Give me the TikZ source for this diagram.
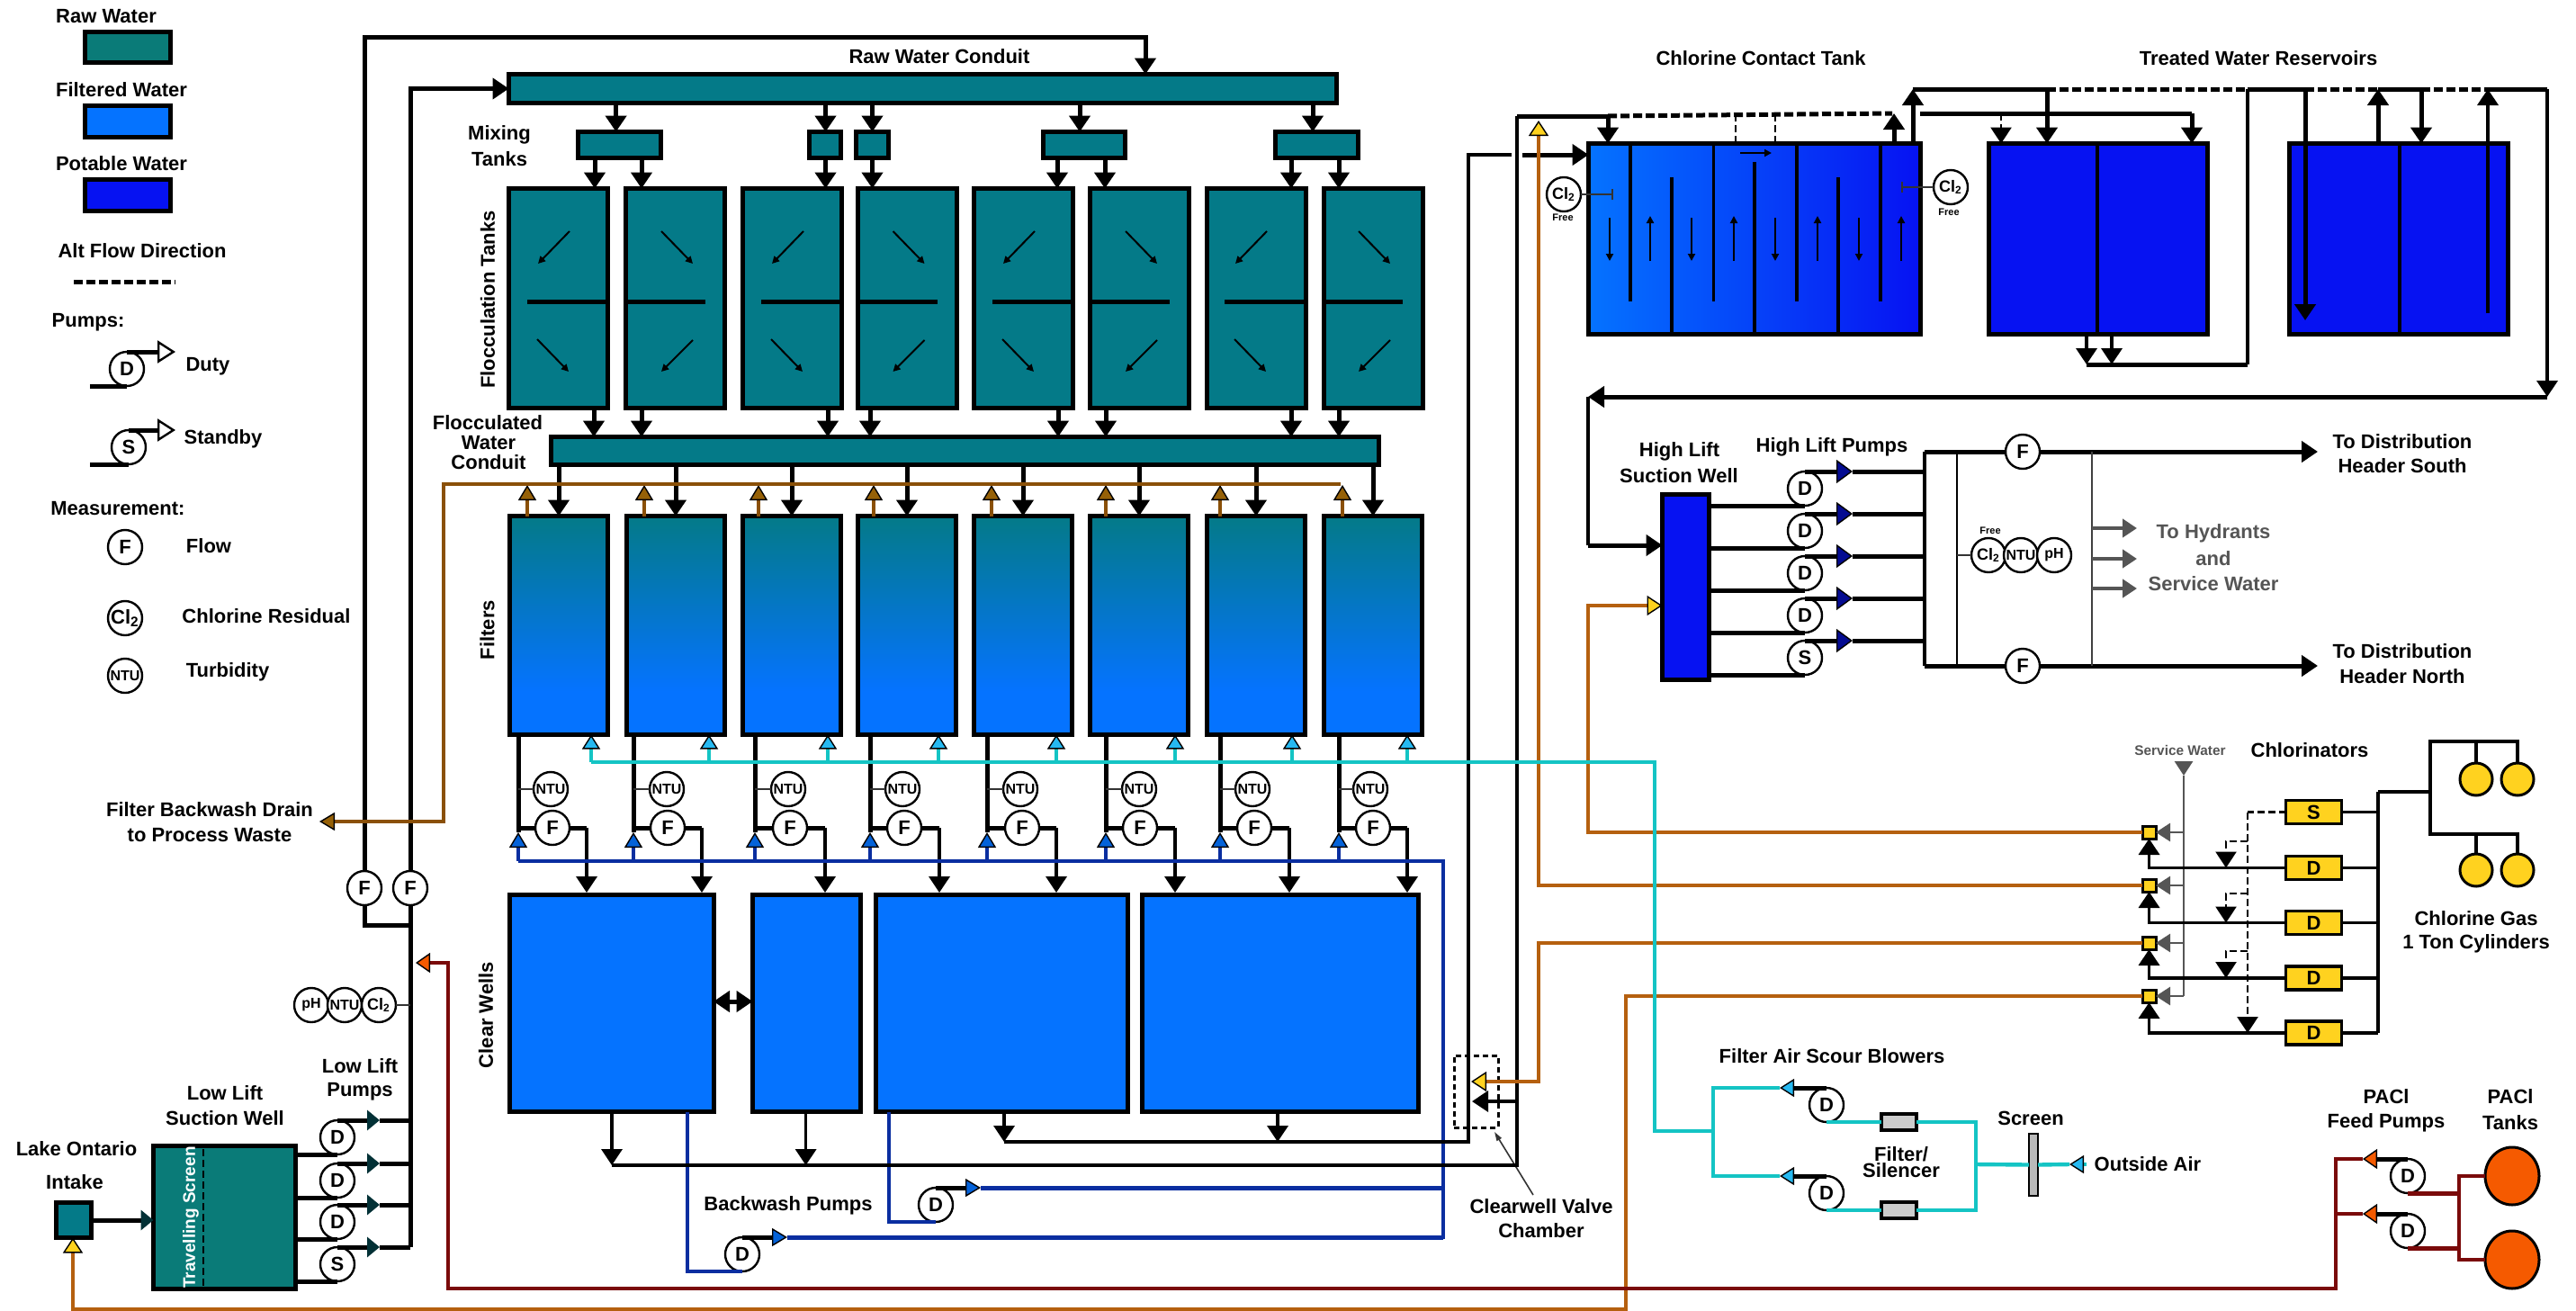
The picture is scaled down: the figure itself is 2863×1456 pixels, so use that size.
\documentclass[tikz,border=0pt]{standalone}
\usepackage{fontspec}
\setmainfont{Liberation Sans}
\usetikzlibrary{arrows.meta,shapes.geometric}
\definecolor{rawteal}{HTML}{047A88}
\definecolor{legendteal}{HTML}{0A7B78}
\definecolor{filterblue}{HTML}{0573FF}
\definecolor{potable}{HTML}{0612F2}
\definecolor{drainbrown}{HTML}{8A5008}
\definecolor{chemorange}{HTML}{B5600F}
\definecolor{pacred}{HTML}{7A0A0A}
\definecolor{aircyan}{HTML}{14C4C4}
\definecolor{washblue}{HTML}{0A2EA0}
\definecolor{gasyellow}{HTML}{FFD21F}
\definecolor{pacorange}{HTML}{F55A00}
\definecolor{greytext}{HTML}{555555}
\pgfdeclareverticalshading{filtershade}{100bp}{color(0bp)=(filterblue); color(35bp)=(filterblue); color(75bp)=(rawteal); color(100bp)=(rawteal)}
\begin{document}
\begin{tikzpicture}[
x=0.5pt,y=-0.5pt,
font=\fontsize{11}{13}\selectfont\bfseries,
wh/.style 2 args={minimum width=(#1-5)*0.5pt,minimum height=(#2-5)*0.5pt},
tank/.style={rectangle,draw=black,line width=2.5pt,inner sep=0pt,outer sep=0pt},
raw/.style={tank,fill=rawteal},
filtered/.style={tank,fill=filterblue},
drinking/.style={tank,fill=potable},
filterbed/.style={tank,shade,shading=filtershade},
meter/.style={circle,draw=black,fill=white,line width=1.2pt,minimum size=19pt,inner sep=0pt,outer sep=0pt},
metersm/.style={meter,font=\fontsize{8}{8}\selectfont\bfseries},
chlor/.style={tank,fill=gasyellow,line width=1.6pt,wh={67}{31}},
inject/.style={tank,fill=gasyellow,line width=1.5pt,wh={20}{19}},
silencer/.style={tank,fill=gray!40,line width=1.6pt,wh={44}{23}},
cylinder/.style={circle,draw=black,fill=gasyellow,line width=1.5pt,minimum size=18pt,inner sep=0pt,outer sep=0pt},
pactank/.style={ellipse,draw=black,fill=pacorange,line width=1.5pt,minimum width=30pt,minimum height=32pt,inner sep=0pt,outer sep=0pt},
small/.style={font=\fontsize{5.5}{6}\selectfont\bfseries},
ktip/.tip={Triangle[length=9pt,width=11.5pt]},
dtip/.tip={Triangle[length=7pt,width=11pt,fill=rawteal!40!black,color=rawteal!40!black]},
ntip/.tip={Triangle[length=8.5pt,width=10pt,fill=drainbrown!90!yellow,color=black,line width=.7pt]},
ytip/.tip={Triangle[length=8.5pt,width=11pt,fill=gasyellow,color=black,line width=.7pt]},
ctip/.tip={Triangle[length=8pt,width=10pt,fill=cyan!85!white,color=black,line width=.7pt]},
btip/.tip={Triangle[length=8.5pt,width=10pt,fill=filterblue!85!black,color=black,line width=.7pt]},
vtip/.tip={Triangle[length=9pt,width=13pt,fill=potable!60!black,color=black,line width=.7pt]},
rtip/.tip={Triangle[length=8pt,width=11pt,fill=pacorange,color=black,line width=.7pt]},
gtip/.tip={Triangle[length=8pt,width=10pt,fill=greytext,color=greytext]},
wtip/.tip={Triangle[length=10pt,width=12.5pt,fill=white,color=black,line width=1.2pt]},
pipe/.style={draw=black,line width=2.5pt},
pipes/.style={draw=black,line width=1.8pt},
sense/.style={draw=black!80,line width=.8pt},
flow/.style={pipe,-{ktip}},
flows/.style={pipes,-{ktip}},
altflow/.style={draw=black,line width=2.5pt,dash pattern=on 5pt off 2pt},
altthin/.style={draw=black,line width=1.3pt,dash pattern=on 4pt off 2pt},
mini/.style={draw=black,line width=1pt,-{Triangle[length=4pt,width=4pt]}},
drainp/.style={draw=drainbrown,line width=2pt},
chem/.style={draw=chemorange,line width=2pt},
pacp/.style={draw=pacred,line width=2.2pt},
airp/.style={draw=aircyan,line width=1.6pt},
washp/.style={draw=washblue,line width=2pt},
greyp/.style={draw=greytext,line width=1.4pt},
]
\useasboundingbox (0,0) rectangle (2863,1456);

% legend
\node at (118,18) (lraw) {Raw Water};
\node[raw,fill=legendteal,wh={100}{39}] at (142,52.5) (sraw) {};
\node at (135,100) (lfil) {Filtered Water};
\node[filtered,wh={100}{40}] at (142,135) (sfil) {};
\node at (135,182) (lpot) {Potable Water};
\node[drinking,wh={100}{40}] at (142,217) (spot) {};
\node at (158,279) (lalt) {Alt Flow Direction};
\coordinate (alt1) at (82,313);
\coordinate (alt2) at (195,313);
\draw[altflow] (alt1) -- (alt2);
\node at (98,358) (lpump) {Pumps:};
\node[meter] at (141,410) (lpd) {D};
\node at (231,407) (lduty) {Duty};
\coordinate (lpd1) at (100,0);
\coordinate (lpd2) at (195,0);
\draw[pipe] (lpd.south -| lpd1) -- (lpd.south);
\draw[pipe,-{wtip}] (lpd.north) -- (lpd.north -| lpd2);
\node[meter] at (143,497) (lps) {S};
\node at (248,488) (lstby) {Standby};
\draw[pipe] (lps.south -| lpd1) -- (lps.south);
\draw[pipe,-{wtip}] (lps.north) -- (lps.north -| lpd2);
\node at (131,565) (lmeas) {Measurement:};
\node[meter] at (139,608) (lmf) {F};
\node at (232,607) (lflow) {Flow};
\node[meter] at (139,687) (lmc) {Cl\textsubscript{2}};
\node at (296,685) (lres) {Chlorine Residual};
\node[metersm] at (139,751) (lmn) {NTU};
\node at (253,747) (lturb) {Turbidity};

% raw water side
\node at (85,1277) (llake) {Lake Ontario};
\node at (83,1314) (lint) {Intake};
\node[raw,wh={44}{44}] at (82,1356) (intake) {};
\node[raw,fill=legendteal,wh={163}{164}] at (249.5,1353) (llw) {};
\node[rotate=90,text=white,font=\fontsize{9.5}{10}\selectfont\bfseries] at (212,1353) (lscr) {Travelling Screen};
\coordinate (scr1) at (226,1277);
\coordinate (scr2) at (226,1430);
\draw[altthin,draw=black] (scr1) -- (scr2);
\node at (250,1215) (lll1) {Low Lift};
\node at (250,1243) (lll2) {Suction Well};
\node at (400,1185) (lll3) {Low Lift};
\node at (400,1213) (lll4) {Pumps};
\draw[pipe,-{dtip}] (intake.east) -- (intake.east -| llw.west);
\node[meter] at (405,987) (fa) {F};
\node[meter] at (456,987) (fb) {F};
\node[raw,wh={925}{37}] at (1025.5,98.5) (rawc) {};
\node at (1044,63) (lrawc) {Raw Water Conduit};
\coordinate (ta) at (405,41);
\coordinate (tb) at (1273,41);
\coordinate (ja) at (456,1028);
\coordinate (jb) at (456,1386);
\coordinate (lltx) at (422,0);
\draw[flow] (fa.north) -- (ta) -- (tb) -- (tb |- rawc.north);
\draw[flow] (fb.north) |- (rawc.west);
\draw[pipe] (fa.south) |- (ja);
\draw[pipe] (fb.south) -- (jb);
\foreach \i/\pt/\yy in {1/D/1264,2/D/1312,3/D/1358,4/S/1405} {
\node[meter] at (375,\yy) (ll\i) {\pt};
\draw[pipe] (ll\i.south -| llw.east) -- (ll\i.south);
\draw[pipe,-{dtip}] (ll\i.north) -- (ll\i.north -| lltx);
\draw[pipe] (ll\i.north -| lltx) -- (ll\i.north -| jb);
}
\node[metersm] at (346,1117) (sph) {pH};
\node[metersm] at (383,1117) (snt) {NTU};
\node[meter,font=\fontsize{9}{9}\selectfont\bfseries] at (421,1117) (scl) {Cl\textsubscript{2}};
\draw[sense] (scl.east) -- (scl.east -| jb);

% mixing and flocculation
\node at (555,150) (lmix1) {Mixing};
\node at (555,177) (lmix2) {Tanks};
\foreach \i/\xx/\ww/\inx in {1/688.5/97/684.6,2/916.75/40.5/917.5,3/969.5/41/969.5,4/1205/96/1200,5/1463.5/97/1459} {
\node[raw,wh={\ww}{34}] at (\xx,161) (mt\i) {};
\coordinate (mi\i) at (\inx,0);
\draw[flow] (rawc.south -| mi\i) -- (mi\i |- mt\i.north);
}
\node[rotate=90] at (542,333) (lfloc) {Flocculation Tanks};
\foreach \i/\xx in {1/620.5,2/750.5,3/880.5,4/1008,5/1137.5,6/1266.5,7/1396,8/1526} {
\node[raw,wh={115}{249}] at (\xx,331.5) (fc\i) {};
}
\foreach \i/\lf in {1/563,3/823,5/1080,7/1338} {
\coordinate (bf\i) at ({\lf+23},335);
\draw[pipe] (bf\i) -- (bf\i -| fc\i.east);
\coordinate (ua\i) at ({\lf+70},257);
\coordinate (ub\i) at ({\lf+35},293);
\coordinate (la\i) at ({\lf+34},377);
\coordinate (lb\i) at ({\lf+69},413);
\draw[mini] (ua\i) -- (ub\i);
\draw[mini] (la\i) -- (lb\i);
}
\foreach \i/\lf in {2/693,4/950.5,6/1209,8/1468} {
\coordinate (bf\i) at ({\lf+91},335);
\draw[pipe] (bf\i -| fc\i.west) -- (bf\i);
\coordinate (ua\i) at ({\lf+42},257);
\coordinate (ub\i) at ({\lf+77},293);
\coordinate (la\i) at ({\lf+77},378);
\coordinate (lb\i) at ({\lf+42},413);
\draw[mini] (ua\i) -- (ub\i);
\draw[mini] (la\i) -- (lb\i);
}
\foreach \i/\xx/\mm in {1/661/1,2/713/1,3/917.5/2,4/969.5/3,5/1175/4,6/1228/4,7/1435/5,8/1488/5} {
\coordinate (mo\i) at (\xx,0);
\draw[flow] (mo\i |- mt\mm.south) -- (mo\i |- fc\i.north);
}
\node at (542,470) (lfw1) {Flocculated};
\node at (543,492) (lfw2) {Water};
\node at (543,514) (lfw3) {Conduit};
\node[raw,wh={925}{36}] at (1072,501) (fwc) {};
\foreach \i/\xx in {1/660,2/713,3/920,4/967,5/1176,6/1229,7/1435,8/1488} {
\coordinate (fo\i) at (\xx,0);
\draw[flow] (fo\i |- fc\i.south) -- (fo\i |- fwc.north);
}

% filters
\node[rotate=90] at (541.5,700) (lfilt) {Filters};
\foreach \i/\xx/\br/\cy/\bk/\fm/\nt/\cw in {1/621/586/657/576/614/612/652,2/751/716/788/704/742/741/780,3/880/843/920/839/878/876/917,4/1008/971/1043/967/1005/1003/1044,5/1137/1102/1174/1097/1136/1134/1174,6/1266/1229/1306/1229/1267/1266/1306,7/1396/1356/1436/1356/1394/1392/1433,8/1526/1492/1564/1488/1526/1523/1564} {
\node[filterbed,wh={114}{248}] at (\xx,695) (filt\i) {};
\node[meter] at (\fm,920) (fl\i) {F};
\node[metersm] at (\nt,877) (nt\i) {NTU};
\draw[flow] (filt\i.north |- fwc.south) -- (filt\i.north);
\coordinate (dr\i) at (\br,539);
\draw[drainp,-{ntip}] (dr\i |- filt\i.north) -- (dr\i);
\coordinate (sc\i) at (\cy,847);
\draw[airp,-{ctip}] (sc\i) -- (sc\i |- filt\i.south);
\coordinate (bo\i) at (\bk,957);
\coordinate (bt\i) at (\bk,925);
\draw[washp,-{btip}] (bo\i) -- (bt\i);
\draw[pipe] (bt\i |- filt\i.south) -- (bt\i);
\draw[pipe] (bt\i |- fl\i.west) -- (fl\i.west);
\draw[sense] (bt\i |- nt\i.west) -- (nt\i.west);
\coordinate (wa\i) at (\cw,992);
\draw[pipe] (fl\i.east) -- (fl\i.east -| wa\i);
\draw[flows] (fl\i.east -| wa\i) -- (wa\i);
}
\coordinate (dr0) at (1490,538);
\coordinate (dr9) at (493,538);
\coordinate (dr10) at (493,913);
\coordinate (dr11) at (355,913);
\draw[drainp,-{ntip}] (dr0) -- (dr9) -- (dr10) -- (dr11);
\node at (233,900) (ldr1) {Filter Backwash Drain};
\node at (233,928) (ldr2) {to Process Waste};

% clear wells
\node[rotate=90] at (540,1128) (lcw) {Clear Wells};
\node[filtered,wh={232}{246}] at (679.5,1115) (cw1) {};
\node[filtered,wh={125}{246}] at (896.5,1115) (cw2) {};
\node[filtered,wh={285}{246}] at (1113,1115) (cw3) {};
\node[filtered,wh={312}{246}] at (1423,1115) (cw4) {};
\coordinate (cwx) at (0,1113);
\draw[pipe,{ktip}-{ktip}] (cw1.east |- cwx) -- (cw2.west |- cwx);
\coordinate (oa1) at (680,1295);
\coordinate (oa2) at (895.6,1295);
\coordinate (oa3) at (1686,1295);
\coordinate (ob1) at (1116,1269);
\coordinate (ob2) at (1420,1269);
\coordinate (ob3) at (1632,1269);
\draw[flows] (oa1 |- cw1.south) -- (oa1);
\draw[flows] (oa2 |- cw2.south) -- (oa2);
\draw[flows] (ob1 |- cw3.south) -- (ob1);
\draw[flows] (ob2 |- cw4.south) -- (ob2);
\coordinate (ob4) at (1632,172);
\coordinate (ob5) at (1680,172);
\coordinate (ob6) at (1692,172);
\coordinate (oa4) at (1686,129);
\coordinate (oa5) at (1787,129);
\coordinate (oa6) at (2103,126);
\node[draw=black,line width=1.5pt,dash pattern=on 3pt off 2pt,minimum width=24.5pt,minimum height=40pt,inner sep=0pt,outer sep=0pt] at (1640.5,1213) (vc) {};
\node at (1713,1341) (lvc1) {Clearwell Valve};
\node at (1713,1368) (lvc2) {Chamber};
\coordinate (vcp) at (1661,1258);
\coordinate (vcq) at (1704,1328);
\draw[sense,-{Triangle[length=5pt,width=3pt]}] (vcq) -- (vcp);
\coordinate (vca) at (1636,1224);
\draw[flows] (oa3 |- vca) -- (vca);

% backwash
\coordinate (bo9) at (1604,957);
\coordinate (bo10) at (1604,1377);
\draw[washp] (bo1) -- (bo9) -- (bo10);
\node at (876,1340) (lbw) {Backwash Pumps};
\node[meter] at (825,1394) (bw1) {D};
\node[meter] at (1040,1339) (bw2) {D};
\coordinate (bwa) at (764,0);
\coordinate (bwb) at (988,0);
\coordinate (bwc) at (875,0);
\coordinate (bwd) at (1090,0);
\draw[washp] (bwa |- cw1.south) -- (bwa |- bw1.south) -- (bw1.south);
\draw[washp] (bwb |- cw3.south) -- (bwb |- bw2.south) -- (bw2.south);
\draw[pipe,-{btip}] (bw1.north) -- (bw1.north -| bwc);
\draw[pipe,-{btip}] (bw2.north) -- (bw2.north -| bwd);
\draw[washp,line width=2.5pt] (bw1.north -| bwc) -- (bw1.north -| bo9);
\draw[washp,line width=2.5pt] (bw2.north -| bwd) -- (bw2.north -| bo9);

% chlorine contact tank and reservoirs
\node at (1957,65) (lcct) {Chlorine Contact Tank};
\node at (2510,65) (ltwr) {Treated Water Reservoirs};
\node[tank,left color=filterblue,right color=potable,wh={374}{217}] at (1950,265.5) (cct) {};
\node[drinking,wh={248}{217}] at (2332,265.5) (res1) {};
\node[drinking,wh={248}{217}] at (2666,265.5) (res2) {};
\foreach \i/\xx in {1/1812,2/1904.5,3/1997,4/2090} {
\coordinate (bu\i) at (\xx,335);
\draw[pipes] (bu\i |- cct.north) -- (bu\i);
}
\foreach \i/\xx/\yy in {1/1858/197,2/1950/180,3/2043/197} {
\coordinate (bl\i) at (\xx,\yy);
\draw[pipes] (bl\i |- cct.south) -- (bl\i);
}
\foreach \i/\xx in {1/1789,2/1880,3/1973,4/2066} {
\coordinate (sd\i) at (\xx,242);
\coordinate (se\i) at (\xx,290);
\draw[mini] (sd\i) -- (se\i);
}
\foreach \i/\xx in {1/1834,2/1927,3/2020,4/2113} {
\coordinate (sf\i) at (\xx,290);
\coordinate (sg\i) at (\xx,240);
\draw[mini] (sf\i) -- (sg\i);
}
\coordinate (sh1) at (1934,170);
\coordinate (sh2) at (1969,170);
\draw[mini] (sh1) -- (sh2);
\node[meter,font=\fontsize{9}{9}\selectfont\bfseries] at (1738,216) (cla) {Cl\textsubscript{2}};
\node[small] at (1737,242) (fra) {Free};
\coordinate (cla1) at (1793,216);
\draw[sense,-{Bar[width=6pt]}] (cla.east) -- (cla1);
\node[meter,font=\fontsize{9}{9}\selectfont\bfseries] at (2168,208) (clb) {Cl\textsubscript{2}};
\node[small] at (2166,236) (frb) {Free};
\coordinate (clb1) at (2113,208);
\draw[sense,-{Bar[width=6pt]}] (clb.west) -- (clb1);
\draw[pipes] (oa1) -- (oa3) -- (oa4);
\draw[pipe] (oa4) -- (oa5);
\draw[flow] (oa5) -- (oa5 |- cct.north);
\draw[altflow] (oa5) -- (oa6);
\draw[pipes] (ob1) -- (ob3) -- (ob4) -- (ob5);
\draw[flow] (ob6) -- (ob6 -| cct.west);
\coordinate (up0) at (1929,127);
\coordinate (up00) at (1973,127);
\draw[altthin] (up0) -- (up0 |- cct.north);
\draw[altthin] (up00) -- (up00 |- cct.north);
\coordinate (up1) at (2105,126);
\coordinate (up2) at (2126,99);
\draw[flow] (up1 |- cct.north) -- (up1);
\draw[flow] (up2 |- cct.north) -- (up2);
\coordinate (b1) at (2134,126);
\coordinate (b2) at (2436,126);
\coordinate (b3) at (2224,126);
\coordinate (b4) at (2275,99);
\coordinate (b6) at (2498,99);
\coordinate (c1) at (2562,99);
\coordinate (c2) at (2643,99);
\coordinate (c3) at (2691,99);
\coordinate (c4) at (2765,99);
\coordinate (c5) at (2831,99);
\draw[pipe] (b1) -- (b2);
\draw[flow] (b2) -- (b2 |- res1.north);
\draw[altthin,-{ktip}] (b3) -- (b3 |- res1.north);
\draw[flow] (b4) -- (b4 |- res1.north);
\draw[pipe] (up2) -- (b4);
\draw[altflow] (b4) -- (b6);
\draw[pipe] (b6) -- (c1);
\draw[altflow] (c1) -- (c2);
\draw[pipe] (c2) -- (c3);
\draw[altflow] (c3) -- (c4);
\draw[pipe] (c4) -- (c5);
\coordinate (c1a) at (2562,356);
\coordinate (c4a) at (2765,348);
\draw[flow] (c1) -- (c1a);
\draw[flow] (c2 |- res2.north) -- (c2);
\draw[flow] (c3) -- (c3 |- res2.north);
\draw[flows] (c4a) -- (c4);
\coordinate (rd1) at (2331,0);
\coordinate (rd2) at (2667,0);
\draw[pipes] (rd1 |- res1.north) -- (rd1 |- res1.south);
\draw[pipes] (rd2 |- res2.north) -- (rd2 |- res2.south);
\coordinate (g1) at (2319,405);
\coordinate (g2) at (2347,405);
\coordinate (g3) at (2498,405);
\draw[flows] (g1 |- res1.south) -- (g1);
\draw[flows] (g2 |- res1.south) -- (g2);
\draw[pipe] (g1) -- (g3);
\draw[pipes] (g3) -- (b6);

% high lift
\coordinate (e1) at (2831,441);
\coordinate (e2) at (1765,441);
\coordinate (e3) at (1765,606);
\node[drinking,wh={57}{211}] at (1873.5,652.5) (hlw) {};
\node at (1866.5,502) (lhl1) {High Lift};
\node at (1866,529) (lhl2) {Suction Well};
\node at (2036,497) (lhl3) {High Lift Pumps};
\draw[flows] (c5) -- (e1);
\draw[flow] (e1) -- (e2);
\draw[pipes] (e2) -- (e3);
\draw[flow] (e3) -- (e3 -| hlw.west);
\coordinate (hv1) at (2139,502);
\coordinate (hv2) at (2139,740);
\coordinate (hltx) at (2059,0);
\draw[pipes] (hv1) -- (hv2);
\foreach \i/\pt/\yy in {1/D/543,2/D/590,3/D/637,4/D/684,5/S/731} {
\node[meter] at (2006,\yy) (hl\i) {\pt};
\draw[pipe] (hl\i.south -| hlw.east) -- (hl\i.south);
\draw[pipe,-{vtip}] (hl\i.north) -- (hl\i.north -| hltx);
\draw[pipe] (hl\i.north -| hltx) -- (hl\i.north -| hv1);
}
\node[meter] at (2248,502) (fs) {F};
\node[meter] at (2248,740) (fn) {F};
\coordinate (ts) at (2576,502);
\coordinate (tn) at (2576,740);
\draw[pipe] (hv1) -- (fs.west);
\draw[pipe] (hv2) -- (fn.west);
\draw[flow] (fs.east) -- (ts);
\draw[flow] (fn.east) -- (tn);
\coordinate (hb1) at (2175,502);
\coordinate (hb2) at (2175,740);
\coordinate (hc1) at (2325,502);
\coordinate (hc2) at (2325,740);
\draw[draw=black,line width=1.2pt] (hb1) -- (hb2);
\draw[draw=black!75,line width=1.2pt] (hc1) -- (hc2);
\node[meter,font=\fontsize{9}{9}\selectfont\bfseries] at (2210,617) (hcl) {Cl\textsubscript{2}};
\node[metersm] at (2246,617) (hnt) {NTU};
\node[metersm] at (2283,617) (hph) {pH};
\node[small] at (2212,590) (hfr) {Free};
\draw[sense] (hb1 |- hcl.west) -- (hcl.west);
\foreach \i/\yy in {1/587,2/621,3/654} {
\coordinate (gg\i) at (2375,\yy);
\draw[greyp,line width=2pt,-{gtip}] (hc1 |- gg\i) -- (gg\i);
}
\node[text=greytext] at (2460,593) (lhy1) {To Hydrants};
\node[text=greytext] at (2460,621) (lhy2) {and};
\node[text=greytext] at (2460,649) (lhy3) {Service Water};
\node at (2670,491) (lds1) {To Distribution};
\node at (2670,518) (lds2) {Header South};
\node at (2670,724) (ldn1) {To Distribution};
\node at (2670,752) (ldn2) {Header North};

% chlorinators
\node[text=greytext,font=\fontsize{7.7}{8}\selectfont\bfseries] at (2423,834) (lsw) {Service Water};
\node at (2567,834) (lchl) {Chlorinators};
\foreach \i/\yy in {1/925,2/984,3/1048,4/1107} {
\node[inject] at (2388.5,\yy) (inj\i) {};
}
\foreach \i/\yy/\pt in {0/902.5/S,1/964.5/D,2/1025.5/D,3/1087/D,4/1148/D} {
\node[chlor] at (2571.5,\yy) (cb\i) {\pt};
}
\coordinate (sv0) at (2427,847);
\coordinate (sv1) at (2427,862);
\coordinate (sv2) at (2427,1107);
\draw[greyp,-{gtip}] (sv0) -- (sv1);
\draw[greyp] (sv1) -- (sv2);
\coordinate (gas) at (2643,880);
\foreach \i in {1,2,3,4} {
\draw[greyp,-{gtip}] (inj\i.east -| sv0) -- (inj\i.east);
\draw[pipes,-{ktip}] (cb\i.west) -| (inj\i.south);
}
\foreach \i in {0,1,2,3,4} {
\draw[pipes] (cb\i.east) -- (cb\i.east -| gas);
}
\draw[pipes] (gas) -- (gas |- cb4.east);
\coordinate (dv0) at (2498,902.5);
\draw[altthin] (cb0.west) -- (dv0);
\draw[altthin,-{ktip}] (dv0) -- (dv0 |- cb4.west);
\foreach \i/\yy in {1/935,2/993,3/1057} {
\coordinate (db\i) at (2474,\yy);
\draw[altthin,-{ktip}] (dv0 |- db\i) -- (db\i) -- (db\i |- cb\i.west);
}
\node[cylinder] at (2752,866) (cy1) {};
\node[cylinder] at (2798,866) (cy2) {};
\node[cylinder] at (2752,967) (cy3) {};
\node[cylinder] at (2798,967) (cy4) {};
\coordinate (gh) at (2701,880);
\coordinate (gt) at (2701,824);
\coordinate (gb) at (2701,927);
\draw[pipes] (gas) -- (gh);
\draw[pipes] (cy2.north) |- (gt) -- (gb) -| (cy4.north);
\draw[pipes] (cy1.north) -- (cy1.north |- gt);
\draw[pipes] (cy3.north) -- (cy3.north |- gb);
\node at (2752,1021) (lcg1) {Chlorine Gas};
\node at (2752,1049) (lcg2) {1 Ton Cylinders};

% chemical lines
\coordinate (o1) at (1765,925);
\coordinate (o2) at (1765,673);
\draw[chem,-{ytip}] (inj1.west) -- (o1) -- (o2) -- (o2 -| hlw.west);
\coordinate (o3) at (1710,984);
\coordinate (o4) at (1710,134);
\draw[chem,-{ytip}] (inj2.west) -- (o3) -- (o4);
\coordinate (o5) at (1710,1048);
\coordinate (o6) at (1710,1202);
\coordinate (o7) at (1635,1202);
\draw[chem,-{ytip}] (inj3.west) -- (o5) -- (o6) -- (o7);
\coordinate (o8) at (1807,1107);
\coordinate (o9) at (1807,1455);
\coordinate (o10) at (81,1455);
\draw[chem,-{ytip}] (inj4.west) -- (o8) -- (o9) -- (o10) -- (o10 |- intake.south);

% air scour
\node at (2036,1174) (lair) {Filter Air Scour Blowers};
\node at (2113,1283) (lsil1) {Filter/};
\node at (2113,1301) (lsil2) {Silencer};
\node at (2257,1243) (lscn) {Screen};
\node at (2387,1294) (lout) {Outside Air};
\node[meter] at (2030,1228) (bla) {D};
\node[meter] at (2030,1326) (blb) {D};
\node[silencer] at (2110.5,1247) (sa) {};
\node[silencer] at (2110.5,1345) (sb) {};
\node[rectangle,draw=black,fill=gray!55,line width=.8pt,minimum width=5pt,minimum height=34.5pt,inner sep=0pt,outer sep=0pt] at (2260,1294.5) (scrn) {};
\coordinate (ca1) at (1839,847);
\coordinate (ca2) at (1839,1257);
\coordinate (ca3) at (1904,1257);
\coordinate (ca4) at (1904,1209);
\coordinate (ca5) at (1904,1307);
\coordinate (ca6) at (1978,1209);
\coordinate (ca7) at (1978,1307);
\coordinate (ca8) at (2196,1247);
\coordinate (ca9) at (2196,1345);
\coordinate (ca10) at (2196,1294);
\coordinate (ca11) at (2300,1294);
\coordinate (ca12) at (2319,1294);
\draw[airp] (sc1) -- (ca1) -- (ca2) -- (ca3);
\draw[airp,line width=2.2pt] (ca6) -- (ca4) -- (ca5) -- (ca7);
\draw[pipe,-{ctip}] (bla.north) -- (ca6);
\draw[pipe,-{ctip}] (blb.north) -- (ca7);
\draw[airp,line width=2.2pt] (bla.south) -- (sa.west);
\draw[airp,line width=2.2pt] (blb.south) -- (sb.west);
\draw[airp,line width=2.2pt] (sa.east) -- (ca8) -- (ca9) -- (sb.east);
\draw[airp,line width=2.2pt] (ca10) -- (scrn.west);
\draw[airp,line width=2.2pt] (scrn.east) -- (ca11);
\draw[airp,-{ctip}] (ca12) -- (ca11);

% PACl
\node at (2652,1219) (lpf1) {PACl};
\node at (2652,1248) (lpf2) {Feed Pumps};
\node at (2790,1219) (lpt1) {PACl};
\node at (2790,1248) (lpt2) {Tanks};
\node[meter] at (2676,1307) (pf1) {D};
\node[meter] at (2676,1368) (pf2) {D};
\node[pactank] at (2792,1307) (pt1) {};
\node[pactank] at (2792,1400) (pt2) {};
\coordinate (p1) at (2626,1288);
\coordinate (p2) at (2626,1349);
\coordinate (p3) at (2596,1288);
\coordinate (p4) at (2596,1432);
\coordinate (p5) at (498,1432);
\coordinate (p6) at (498,1070);
\coordinate (p7) at (462,1070);
\coordinate (p8) at (2733,0);
\draw[pipe,-{rtip}] (pf1.north) -- (pf1.north -| p1);
\draw[pipe,-{rtip}] (pf2.north) -- (pf2.north -| p2);
\draw[pacp,-{rtip}] (p1) -- (p3) -- (p4) -- (p5) -- (p6) -- (p7);
\draw[pacp] (p2) -- (p2 -| p3);
\draw[pacp,line width=2.5pt] (pf1.south) -- (pf1.south -| p8);
\draw[pacp,line width=2.5pt] (pf2.south) -- (pf2.south -| p8);
\draw[pacp] (pt1.west) -- (pt1.west -| p8) -- (pt2.west -| p8) -- (pt2.west);

\end{tikzpicture}
\end{document}
